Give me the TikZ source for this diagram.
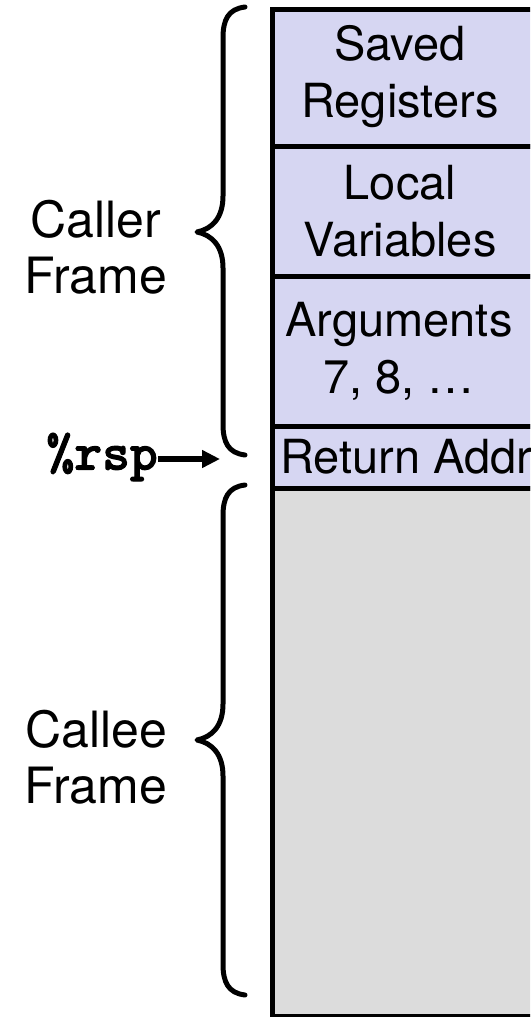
\documentclass[tikz,border=0pt]{standalone}
\usepackage{fontspec}
\setmainfont{TeX Gyre Heros}
\newfontfamily\rspfont{lmmonolt10-bold.otf}[FakeBold=1.8]
\usetikzlibrary{arrows.meta}
\definecolor{lav}{RGB}{214,214,242}
\definecolor{gry}{RGB}{220,220,220}
\begin{document}
\begin{tikzpicture}[x=1pt,y=-1pt,
  cell/.style={draw=black, line width=5pt, anchor=north west, minimum width=320pt, inner sep=0pt},
  lbl/.style={font=\fontsize{47}{57}\selectfont, align=center, inner sep=0pt},
  side/.style={font=\fontsize{50}{56}\selectfont, align=center, inner sep=0pt},
  brc/.style={draw=black, line width=5pt, line cap=round, line join=round},
  regname/.style={font=\fontsize{53}{53}\selectfont\rspfont, inner sep=0pt}]
\useasboundingbox (0,0) rectangle (530,1017);
\clip (0,0) rectangle (530,1017);
% stack cells
\node[cell, fill=lav, minimum height=137pt] (saved) at (270,7) {};
\node[cell, fill=lav, minimum height=130pt] (local) at (270,144) {};
\node[cell, fill=lav, minimum height=150pt] (args) at (270,274) {};
\node[cell, fill=lav, minimum height=62pt] (ret) at (270,424) {};
\node[cell, fill=gry, minimum height=528pt] (callee) at (270,486) {};
% labels
\node[lbl] (tsaved) at (400,77) {Saved\\Registers};
\node[lbl] (tlocal) at (400,211) {Local\\Variables};
\node[lbl] (targs) at (399,351) {Arguments\\7, 8, \dots};
\node[lbl] (tret) at (406,457) {Return Addr};
% side labels
\node[side] (tcaller) at (96,247) {Caller\\Frame};
\node[side] (tcallee) at (96,757) {Callee\\Frame};
% braces
\draw[brc] (245,7) .. controls (228,9) and (223,20) .. (223,38) -- (223,196)
  .. controls (223,218) and (212,229) .. (197,232)
  .. controls (212,235) and (223,246) .. (223,268) -- (223,424)
  .. controls (223,442) and (228,453) .. (245,455);
\draw[brc] (245,485) .. controls (228,487) and (223,498) .. (223,516) -- (223,704)
  .. controls (223,726) and (212,737) .. (197,740)
  .. controls (212,743) and (223,754) .. (223,776) -- (223,964)
  .. controls (223,982) and (228,993) .. (245,995);
% rsp pointer
\node[regname, anchor=east] (rsp) at (158,457) {\%rsp};
\coordinate (rsptip) at (220,459);
\draw[line width=5.5pt, -{Triangle[length=18pt,width=17pt]}] (rsp.east |- rsptip) -- (rsptip);
\end{tikzpicture}
\end{document}
